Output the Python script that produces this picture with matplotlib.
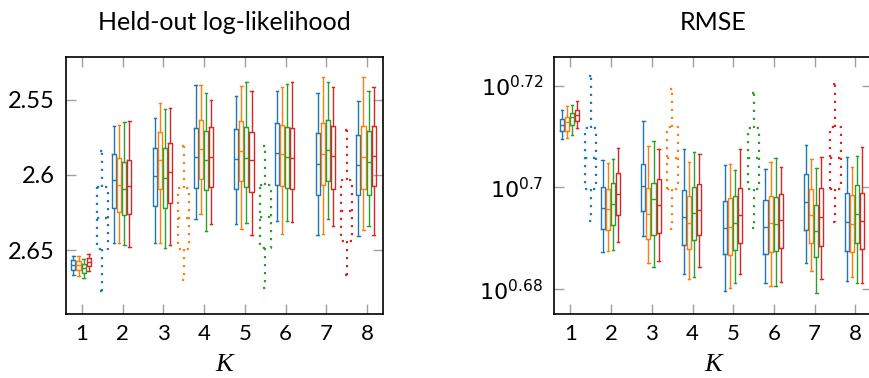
import numpy as np
import matplotlib
matplotlib.use("Agg")
import matplotlib.pyplot as plt

# ---- data: (whislo, q1, median, q3, whishi) per K = 1..8 ----
K = [1, 2, 3, 4, 5, 6, 7, 8]
colors = ["#1f77b4", "#ff7f0e", "#2ca02c", "#d62728"]
offsets = [-0.21, -0.085, 0.04, 0.165]

ll_blue = [
    (2.6537, 2.6568, 2.6599, 2.6630, 2.6666),
    (2.5672, 2.5860, 2.6036, 2.6219, 2.6449),
    (2.5623, 2.5822, 2.6010, 2.6206, 2.6449),
    (2.5403, 2.5687, 2.5881, 2.6085, 2.6295),
    (2.5474, 2.5694, 2.5893, 2.6091, 2.6323),
    (2.5440, 2.5654, 2.5855, 2.6065, 2.6308),
    (2.5456, 2.5723, 2.5930, 2.6131, 2.6401),
    (2.5509, 2.5732, 2.5932, 2.6136, 2.6407),
]
ll_orange = [
    (2.6540, 2.6570, 2.6600, 2.6630, 2.6670),
    (2.5668, 2.5888, 2.6069, 2.6246, 2.6449),
    (2.5522, 2.5716, 2.5904, 2.6096, 2.6449),
    (2.5403, 2.5632, 2.5827, 2.6030, 2.6257),
    (2.5411, 2.5641, 2.5844, 2.6043, 2.6356),
    (2.5418, 2.5666, 2.5862, 2.6074, 2.6394),
    (2.5352, 2.5656, 2.5862, 2.6070, 2.6394),
    (2.5352, 2.5672, 2.5881, 2.6096, 2.6368),
]
ll_green = [
    (2.6560, 2.6593, 2.6615, 2.6648, 2.6687),
    (2.5650, 2.5915, 2.6091, 2.6268, 2.6467),
    (2.5562, 2.5820, 2.6021, 2.6219, 2.6484),
    (2.5456, 2.5705, 2.5904, 2.6103, 2.6374),
    (2.5385, 2.5685, 2.5886, 2.6080, 2.6318),
    (2.5398, 2.5683, 2.5884, 2.6087, 2.6305),
    (2.5381, 2.5632, 2.5833, 2.6040, 2.6290),
    (2.5440, 2.5705, 2.5915, 2.6131, 2.6341),
]
ll_red = [
    (2.6522, 2.6550, 2.6577, 2.6603, 2.6639),
    (2.5643, 2.5900, 2.6076, 2.6262, 2.6478),
    (2.5557, 2.5791, 2.5981, 2.6184, 2.6462),
    (2.5500, 2.5685, 2.5881, 2.6080, 2.6323),
    (2.5444, 2.5712, 2.5904, 2.6113, 2.6396),
    (2.5385, 2.5687, 2.5888, 2.6091, 2.6315),
    (2.5414, 2.5672, 2.5877, 2.6091, 2.6338),
    (2.5414, 2.5672, 2.5875, 2.6076, 2.6396),
]
# dotted boxes between K values (blue, orange, green, red)
dotted_pos = [1.5, 3.5, 5.5, 7.5]
ll_dotted = [
    (2.5844, 2.6080, 2.6285, 2.6493, 2.6770),
    (2.5811, 2.6087, 2.6285, 2.6493, 2.6699),
    (2.5805, 2.6070, 2.6279, 2.6482, 2.6749),
    (2.5701, 2.6036, 2.6239, 2.6440, 2.6666),
]

# RMSE given as log10 exponents
rmse_blue = [
    (0.7096, 0.7111, 0.7123, 0.7134, 0.7153),
    (0.6874, 0.6918, 0.6959, 0.7001, 0.7054),
    (0.6904, 0.6954, 0.7003, 0.7047, 0.7130),
    (0.6830, 0.6887, 0.6942, 0.6995, 0.7076),
    (0.6797, 0.6869, 0.6920, 0.6974, 0.7045),
    (0.6813, 0.6869, 0.6922, 0.6975, 0.7037),
    (0.6851, 0.6917, 0.6971, 0.7026, 0.7084),
    (0.6816, 0.6875, 0.6932, 0.6990, 0.7059),
]
rmse_orange = [
    (0.7098, 0.7111, 0.7129, 0.7138, 0.7161),
    (0.6876, 0.6917, 0.6957, 0.6997, 0.7049),
    (0.6851, 0.6899, 0.6948, 0.6999, 0.7082),
    (0.6821, 0.6879, 0.6931, 0.6984, 0.7050),
    (0.6803, 0.6867, 0.6922, 0.6980, 0.7047),
    (0.6807, 0.6874, 0.6930, 0.6984, 0.7050),
    (0.6835, 0.6891, 0.6945, 0.6997, 0.7055),
    (0.6823, 0.6873, 0.6929, 0.6985, 0.7041),
]
rmse_green = [
    (0.7103, 0.7122, 0.7138, 0.7146, 0.7162),
    (0.6878, 0.6927, 0.6968, 0.7009, 0.7055),
    (0.6843, 0.6907, 0.6978, 0.7009, 0.7092),
    (0.6823, 0.6897, 0.6950, 0.7001, 0.7070),
    (0.6813, 0.6877, 0.6931, 0.6984, 0.7034),
    (0.6807, 0.6876, 0.6929, 0.6982, 0.7057),
    (0.6793, 0.6863, 0.6914, 0.6966, 0.7039),
    (0.6812, 0.6891, 0.6947, 0.7004, 0.7061),
]
rmse_red = [
    (0.7116, 0.7130, 0.7143, 0.7153, 0.7169),
    (0.6893, 0.6945, 0.6987, 0.7029, 0.7078),
    (0.6856, 0.6911, 0.6966, 0.7016, 0.7076),
    (0.6843, 0.6907, 0.6956, 0.7007, 0.7065),
    (0.6830, 0.6891, 0.6945, 0.6999, 0.7076),
    (0.6815, 0.6880, 0.6936, 0.6988, 0.7041),
    (0.6821, 0.6884, 0.6942, 0.6999, 0.7059),
    (0.6812, 0.6879, 0.6935, 0.6990, 0.7080),
]
rmse_dotted = [
    (0.6935, 0.6996, 0.7058, 0.7117, 0.7219),
    (0.6918, 0.6996, 0.7057, 0.7118, 0.7193),
    (0.6920, 0.6996, 0.7057, 0.7116, 0.7186),
    (0.6932, 0.6996, 0.7057, 0.7118, 0.7203),
]

SANS = "Lato"


def to_stats(rows, exp=False):
    out = []
    for r in rows:
        r = np.array(r)
        if exp:
            r = 10 ** r
        out.append(dict(whislo=r[0], q1=r[1], med=r[2], q3=r[3], whishi=r[4], fliers=[]))
    return out


def draw_panel(ax, series, dotted, exp=False):
    for col, off, rows in zip(colors, offsets, series):
        props = dict(color=col, linewidth=1.0)
        ax.bxp(to_stats(rows, exp), positions=np.array(K) + off, widths=0.1,
               capwidths=0.06, showfliers=False, patch_artist=False,
               boxprops=props, whiskerprops=props, capprops=props, medianprops=props,
               manage_ticks=False)
    dot = (0, (1, 2.6))
    for col, pos, row in zip(colors, dotted_pos, to_stats(dotted, exp)):
        props = dict(color=col, linewidth=1.6, linestyle=dot)
        ax.bxp([row], positions=[pos], widths=0.27, capwidths=0.09, showfliers=False,
               boxprops=props, whiskerprops=props, capprops=props, medianprops=props,
               manage_ticks=False)


def style_axes(ax):
    ax.set_xlim(0.6, 8.4)
    ax.set_xticks(K)
    ax.set_xticklabels([str(k) for k in K], family=SANS, fontsize=16)
    ax.tick_params(which="both", direction="in", top=True, right=True, length=7,
                   width=1.0, color="#a0a0a0")
    ax.tick_params(axis="x", pad=7)
    ax.tick_params(axis="y", pad=8)
    for s in ax.spines.values():
        s.set_linewidth(1.2)
    ax.set_xlabel("K", fontsize=19, family="Liberation Serif", style="italic", labelpad=7)


fig = plt.figure(figsize=(8.7, 3.78), dpi=100)
ax1 = fig.add_axes([0.0755, 0.169, 0.365, 0.681])
ax2 = fig.add_axes([0.637, 0.169, 0.365, 0.681])

draw_panel(ax1, [ll_blue, ll_orange, ll_green, ll_red], ll_dotted)
style_axes(ax1)
ax1.set_ylim(2.6924, 2.5215)
ax1.set_yticks([2.55, 2.6, 2.65])
ax1.set_yticklabels(["2.55", "2.6", "2.65"], family=SANS, fontsize=17)
ax1.set_title("Held-out log-likelihood", fontsize=18, family=SANS, pad=19)

ax2.set_yscale("log")
draw_panel(ax2, [rmse_blue, rmse_orange, rmse_green, rmse_red], rmse_dotted, exp=True)
style_axes(ax2)
ax2.set_ylim(10 ** 0.6751, 10 ** 0.7257)
ax2.set_yticks([10 ** 0.68, 10 ** 0.70, 10 ** 0.72])
ax2.set_yticklabels(["$10^{0.68}$", "$10^{0.7}$", "$10^{0.72}$"], fontsize=16)
ax2.yaxis.set_minor_locator(matplotlib.ticker.NullLocator())
ax2.set_title("RMSE", fontsize=18, family=SANS, pad=19)

fig.savefig("out.png", dpi=100)
